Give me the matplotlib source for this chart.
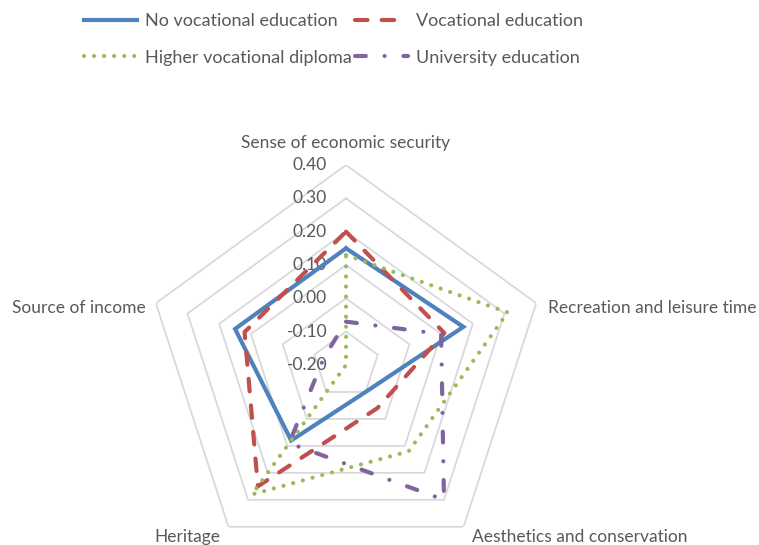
import numpy as np
import matplotlib.pyplot as plt

# radar chart by education level, Excel-like pentagon grid
categories = ["Sense of economic security", "Recreation and leisure time",
              "Aesthetics and conservation", "Heritage", "Source of income"]
no_vocational = [0.15, 0.17, -0.10, 0.08, 0.15]
vocational = [0.20, 0.11, -0.04, 0.25, 0.12]
higher_vocational = [0.13, 0.31, 0.12, 0.28, -0.20]
university = [-0.07, 0.10, 0.30, 0.09, -0.13]
r_ticks = [-0.2, -0.1, 0.0, 0.1, 0.2, 0.3, 0.4]

TEXT = "#595959"
GRID = "#d9d9d9"

plt.rcParams["font.family"] = ["Lato", "DejaVu Sans"]

fig = plt.figure(figsize=(7.59, 5.45), dpi=100)
ax = fig.add_axes([0.1924, -0.0367, 0.527, 0.734], projection="polar")
ax.set_theta_zero_location("N")
ax.set_theta_direction(-1)
ax.set_ylim(r_ticks[0], r_ticks[-1])
ax.grid(False)
ax.spines["polar"].set_visible(False)
ax.set_xticks([])
ax.set_yticks([])
ax.patch.set_alpha(0)

angles = np.linspace(0, 2 * np.pi, len(categories), endpoint=False)
closed = np.append(angles, angles[0])

# pentagon rings
for level in r_ticks[1:]:
    ax.plot(closed, [level] * len(closed), color=GRID, lw=1.3, zorder=1)

# ring labels on the top axis
for level in r_ticks:
    ax.annotate(f"{level:.2f}", xy=(0, level), xytext=(-19, 0),
                textcoords="offset pixels", ha="right", va="center",
                fontsize=12.5, color=TEXT, zorder=2)


def close(vals):
    return list(vals) + [vals[0]]


h_blue, = ax.plot(closed, close(no_vocational), color="#4F81BD", lw=3.0,
                  solid_joinstyle="miter", zorder=3, label="No vocational education")
h_red, = ax.plot(closed, close(vocational), color="#C0504D", lw=3.0,
                 linestyle=(0, (3.0, 3.4)), dash_capstyle="round", zorder=4,
                 label="Vocational education")
h_green, = ax.plot(closed, close(higher_vocational), color="#9BBB59", lw=3.0,
                   linestyle=(0, (0.01, 2.4)), dash_capstyle="round", zorder=5,
                   label="Higher vocational diploma")
h_purple, = ax.plot(closed, close(university), color="#8064A2", lw=3.0,
                    linestyle=(0, (2.6, 4.5, 0.01, 4.5)), dash_capstyle="round",
                    zorder=6, label="University education")

# category labels around the outer ring
label_pos = [((0, 22), "center"), ((12, -5), "left"), ((8, -10), "left"),
             ((-8, -10), "right"), ((-10, -5), "right")]
for ang, name, (off, ha) in zip(angles, categories, label_pos):
    ax.annotate(name, xy=(ang, r_ticks[-1]), xytext=off, textcoords="offset pixels",
                ha=ha, va="center", fontsize=12.5, color=TEXT, annotation_clip=False)

leg = fig.legend(handles=[h_blue, h_green, h_red, h_purple], ncol=2,
                 loc="upper left", bbox_to_anchor=(84 / 759, 1 - 13 / 545),
                 frameon=False, fontsize=13, handlelength=2.95, handletextpad=0.45,
                 columnspacing=0.15, labelspacing=1.15, borderpad=0, borderaxespad=0)
for t in leg.get_texts():
    t.set_color(TEXT)

fig.savefig("out.png", dpi=100)
